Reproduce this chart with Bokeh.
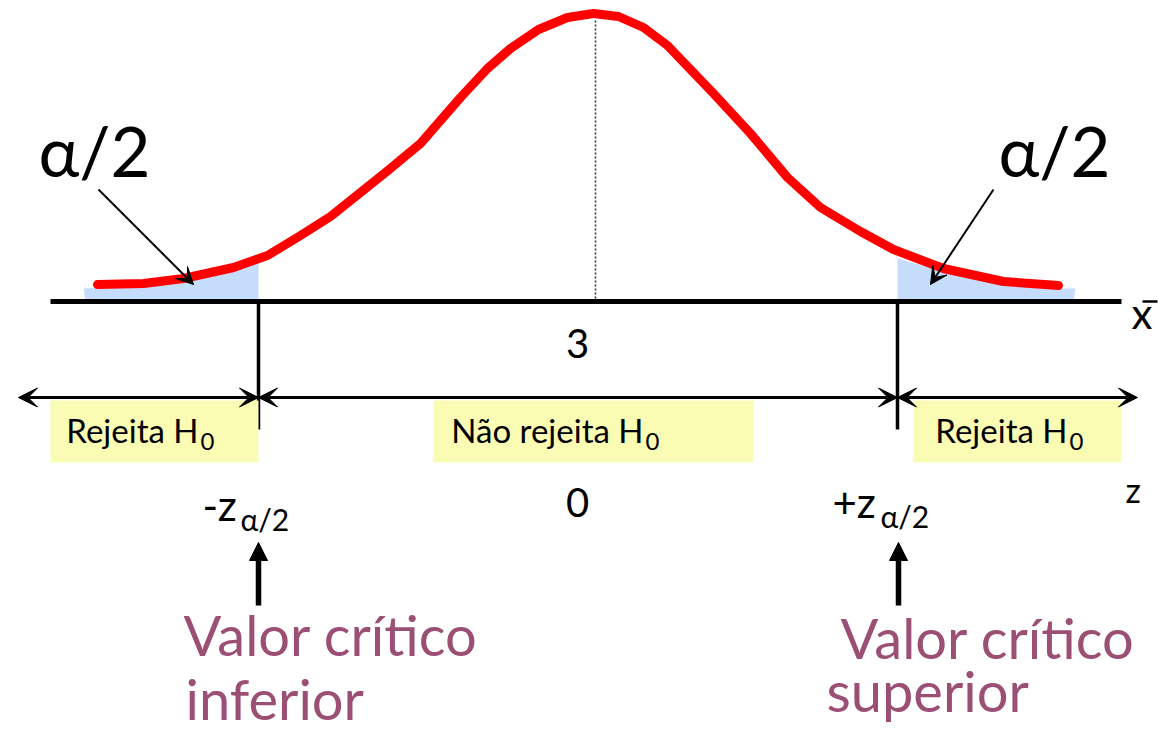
from bokeh.plotting import figure
from bokeh.models import Range1d, Arrow, VeeHead, NormalHead, ColumnDataSource
from bokeh.core.properties import value
from bokeh.embed import file_html
from bokeh.resources import INLINE

# ---- data (page-pixel coordinate system) ----
curve_x = [97, 143, 183, 233, 267, 300, 330, 385, 420, 460, 487, 510, 538, 567, 593,
           618, 643, 667, 713, 750, 787, 820, 860, 893, 943, 1003, 1058]
curve_y = [284, 283, 278, 267, 255, 235, 216, 172, 143, 97, 68, 48, 29, 17, 13,
           16, 27, 45, 93, 133, 177, 207, 231, 249, 268, 281, 285]

left_tail_x = [83, 97, 143, 183, 233, 258, 258, 85]
left_tail_y = [288, 287, 286, 281, 270, 262, 301, 301]
right_tail_x = [897, 943, 1003, 1058, 1075, 1073, 897]
right_tail_y = [258, 271, 284, 288, 288, 301, 301]

mean_x = 595
crit_x = [258, 897]
axis_y = 301
axis_x = [50, 1121]

region_left = [50, 433, 913]
region_right = [258, 753, 1121]
region_labels = ["Rejeita H", "Não rejeita H", "Rejeita H"]
region_label_end = [198, 643, 1067]
region_sub = ["0", "0", "0"]

arrow_y = 397
arrow_start = [18, 258, 897]
arrow_end = [258, 897, 1137]

xbar_value = ["3"]
z_value = ["0"]
crit_labels = ["-z", "+z"]
crit_label_x = [202, 832]
crit_label_y = [520, 517]
crit_sub = ["α/2", "α/2"]
crit_sub_x = [240, 880]
crit_sub_y = [530, 527]

alpha_labels = ["α/2", "α/2"]
alpha_label_x = [38, 998]
alpha_ptr_x0 = [98, 993]
alpha_ptr_y0 = [189, 189]
alpha_ptr_x1 = [193, 930]
alpha_ptr_y1 = [284, 284]

crit_names_1 = ["Valor crítico", "Valor crítico"]
crit_names_1_x = [183, 840]
crit_names_1_y = [655, 658]
crit_names_2 = ["inferior", "superior"]
crit_names_2_x = [185, 826]
crit_names_2_y = [719, 711]

FONT = value("Lato")
PURPLE = "#9b4f75"

p = figure(width=1158, height=731, x_range=Range1d(0, 1158), y_range=Range1d(731, 0),
           output_backend="svg", toolbar_location=None, min_border=0)
p.axis.visible = False
p.grid.visible = False
p.outline_line_color = None
p.background_fill_color = "white"

# shaded tails
p.patch(left_tail_x, left_tail_y, fill_color="#c5dcfa", line_color=None)
p.patch(right_tail_x, right_tail_y, fill_color="#c5dcfa", line_color=None)

# mean dotted line
p.segment(x0=[mean_x], y0=[20], x1=[mean_x], y1=[axis_y], line_color="#333333",
          line_width=1.6, line_dash="2 2")

# axis line
p.segment(x0=[axis_x[0]], y0=[axis_y], x1=[axis_x[1]], y1=[axis_y], line_color="black", line_width=5)

# critical vertical lines
p.segment(x0=crit_x, y0=[axis_y] * 2, x1=crit_x, y1=[429] * 2, line_color="black", line_width=3.5)

# curve
p.line(curve_x, curve_y, line_color="#ff0000", line_width=9, line_cap="round", line_join="round")

# region boxes
p.quad(left=region_left, right=region_right, top=[400] * 3, bottom=[462] * 3,
       fill_color="#fafcb4", line_color=None)

# horizontal double arrows
src = ColumnDataSource(dict(x0=arrow_start, x1=arrow_end, y=[arrow_y] * 3))
p.add_layout(Arrow(x_start="x0", y_start="y", x_end="x1", y_end="y", source=src,
                   line_width=3, line_color="black",
                   start=VeeHead(size=19, fill_color="black", line_color="black", line_width=1),
                   end=VeeHead(size=19, fill_color="black", line_color="black", line_width=1)))

# alpha pointers
src2 = ColumnDataSource(dict(x0=alpha_ptr_x0, y0=alpha_ptr_y0, x1=alpha_ptr_x1, y1=alpha_ptr_y1))
p.add_layout(Arrow(x_start="x0", y_start="y0", x_end="x1", y_end="y1", source=src2,
                   line_width=2, line_color="black",
                   end=VeeHead(size=17, fill_color="black", line_color="black", line_width=1)))

# up arrows to critical value labels
src3 = ColumnDataSource(dict(x=[258, 898], y0=[605, 605], y1=[542, 542]))
p.add_layout(Arrow(x_start="x", y_start="y0", x_end="x", y_end="y1", source=src3,
                   line_width=5.5, line_color="black",
                   end=NormalHead(size=18, fill_color="black", line_color="black", line_width=1)))

# texts (baseline correction for the renderer)
def txt(xs, ys, texts, size, align="left", color="black"):
    dy = 0.38 * size
    p.text(x=xs, y=[y - dy for y in ys], text=texts, text_font=FONT,
           text_font_size=f"{size}px", text_align=align, text_baseline="alphabetic",
           text_color=color)

txt(region_label_end, [442] * 3, region_labels, 33, align="right")
txt([e + 2 for e in region_label_end], [450] * 3, region_sub, 24)

txt([577], [358], xbar_value, 40, align="center")
txt([577], [517], z_value, 40, align="center")

txt([1131], [328], ["x"], 42)
p.segment(x0=[1142], y0=[301], x1=[1157], y1=[301], line_color="black", line_width=2.5)
txt([1125], [502], ["z"], 34)

txt(crit_label_x, crit_label_y, crit_labels, 42)
txt(crit_sub_x, crit_sub_y, crit_sub, 30)

txt(alpha_label_x, [176, 176], alpha_labels, 69)

txt(crit_names_1_x, crit_names_1_y, crit_names_1, 56, color=PURPLE)
txt(crit_names_2_x, crit_names_2_y, crit_names_2, 56, color=PURPLE)

open("out.html", "w").write(file_html(p, INLINE))
